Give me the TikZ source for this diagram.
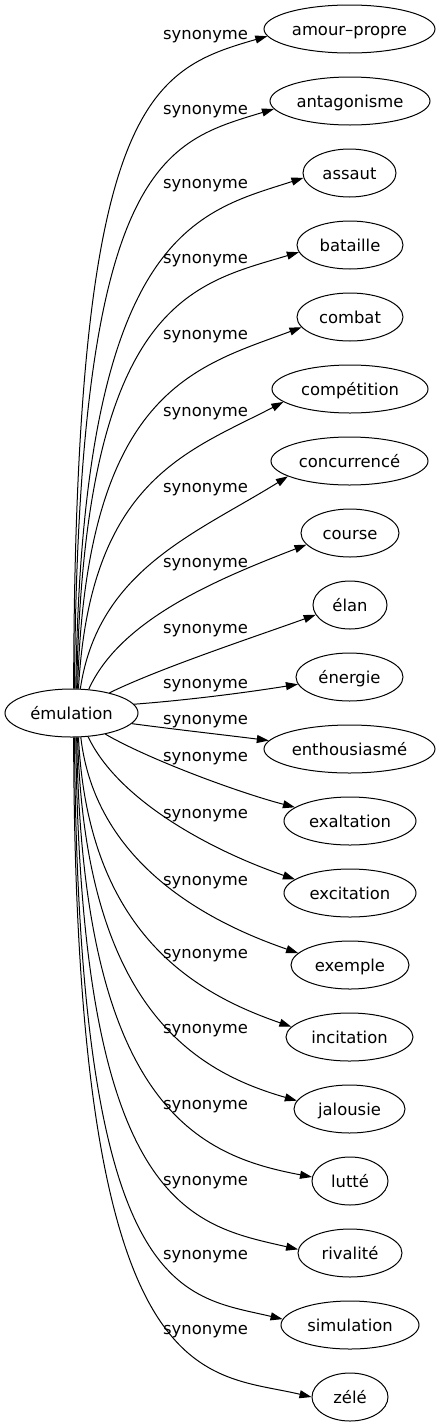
\documentclass[tikz,border=0pt]{standalone}
\usepackage{fontspec}
\setmainfont{DejaVu Sans}
\usetikzlibrary{shapes.geometric,arrows.meta}
\begin{document}
\begin{tikzpicture}[x=1pt,y=-1pt,
  txt/.style={font=\fontsize{16.4}{20}\selectfont, text height=15pt, text depth=3pt, inner sep=0pt},
  tn/.style={txt, draw, line width=1pt, ellipse, minimum height=48pt},
  lbl/.style={txt, anchor=west},
  edge/.style={draw, line width=1pt, -{Triangle[length=12pt,width=8pt]}}]
\useasboundingbox (0,0) rectangle (441,1427);
\node[tn, minimum width=133pt] (em) at (71.5,713) {émulation};
\node[tn, minimum width=171pt] (n0) at (349.5,29) {amour–propre};
\node[tn, minimum width=160pt] (n1) at (350,101) {antagonisme};
\node[tn, minimum width=93pt] (n2) at (349.5,173) {assaut};
\node[tn, minimum width=106pt] (n3) at (350,245) {bataille};
\node[tn, minimum width=106pt] (n4) at (350,317) {combat};
\node[tn, minimum width=156pt] (n5) at (350,389) {compétition};
\node[tn, minimum width=157pt] (n6) at (349.5,461) {concurrencé};
\node[tn, minimum width=98pt] (n7) at (350,533) {course};
\node[tn, minimum width=74pt] (n8) at (350,605) {élan};
\node[tn, minimum width=107pt] (n9) at (349.5,677) {énergie};
\node[tn, minimum width=171pt] (n10) at (349.5,749) {enthousiasmé};
\node[tn, minimum width=132pt] (n11) at (350,821) {exaltation};
\node[tn, minimum width=132pt] (n12) at (350,893) {excitation};
\node[tn, minimum width=118pt] (n13) at (350,965) {exemple};
\node[tn, minimum width=127pt] (n14) at (349.5,1037) {incitation};
\node[tn, minimum width=111pt] (n15) at (349.5,1109) {jalousie};
\node[tn, minimum width=76pt] (n16) at (350,1181) {lutté};
\node[tn, minimum width=104pt] (n17) at (350,1253) {rivalité};
\node[tn, minimum width=138pt] (n18) at (350,1325) {simulation};
\node[tn, minimum width=76pt] (n19) at (350,1397) {zélé};
\foreach \k/\y in {0/33,1/108,2/182,3/257,4/333,5/410,6/486,7/561,8/627,9/682,10/718,11/755,12/812,13/879,14/952,15/1027,16/1103,17/1179,18/1253,19/1328}
  \node[lbl] (l\k) at (163,\y) {synonyme};
\draw[edge] (em.85) .. controls (75,100) and (150,70) .. (n0.185);
\draw[edge] (em.83) .. controls (78,160) and (165,142) .. (n1.186);
\draw[edge] (em.80) .. controls (82,230) and (198,212) .. (n2.186);
\draw[edge] (em.78) .. controls (84,300) and (193,284) .. (n3.188);
\draw[edge] (em.76) .. controls (86,390) and (195,367) .. (n4.192);
\draw[edge] (em.74) .. controls (90,480) and (187,452) .. (n5.191);
\draw[edge] (em.70) .. controls (98,570) and (195,534) .. (n6.194);
\draw[edge] (em.54) .. controls (120,620) and (215,580) .. (n7.195);
\draw[edge] (em.28) .. controls (160,668) and (260,635) .. (n8.196);
\draw[edge] (em.8) .. controls (190,700) and (250,692) .. (n9.188);
\draw[edge] (em.-10) .. controls (180,730) and (225,735) .. (n10.174);
\draw[edge] (em.-32) .. controls (150,760) and (240,793) .. (n11.166);
\draw[edge] (em.-55) .. controls (118,800) and (210,850) .. (n12.166);
\draw[edge] (em.-69.5) .. controls (95,860) and (202,920) .. (n13.167);
\draw[edge] (em.-74) .. controls (88,935) and (197,994) .. (n14.170);
\draw[edge] (em.-76) .. controls (85,1010) and (197,1072) .. (n15.171);
\draw[edge] (em.-78) .. controls (82,1110) and (201,1156) .. (n16.174);
\draw[edge] (em.-80.5) .. controls (80,1210) and (192,1225) .. (n17.176);
\draw[edge] (em.-83) .. controls (78,1300) and (180,1295) .. (n18.175);
\draw[edge] (em.-85) .. controls (75,1400) and (202,1371) .. (n19.180);
\end{tikzpicture}
\end{document}
